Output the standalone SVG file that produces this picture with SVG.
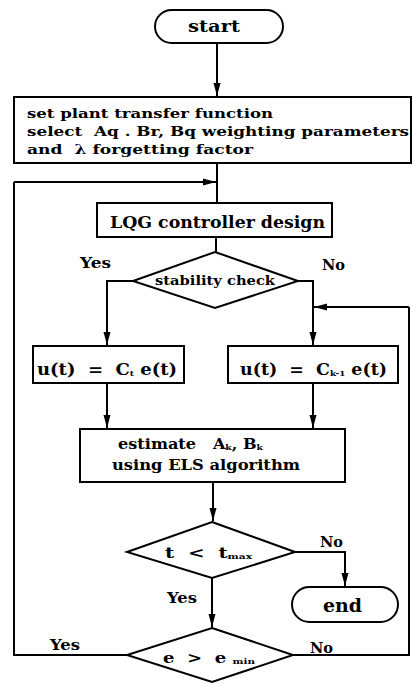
<svg xmlns="http://www.w3.org/2000/svg" width="413" height="684" viewBox="0 0 413 684">
<style>
.s{fill:none;stroke:#000;stroke-width:2}
.n{fill:#fff;stroke:#000;stroke-width:2}
text{font-family:"DejaVu Serif","Liberation Serif",serif;font-weight:bold;fill:#000;white-space:pre}
</style>
<defs>
<marker id="a" markerUnits="userSpaceOnUse" markerWidth="14" markerHeight="8" refX="13" refY="4" orient="auto">
<path d="M0,0.5 L13,4 L0,7.5 z" fill="#000"/>
</marker>
</defs>
<rect width="413" height="684" fill="#fff"/>
<g id="connectors">
<path class="s" d="M217,43 V96" marker-end="url(#a)"/>
<path class="s" d="M217,163 V203"/>
<path class="s" d="M14,182 H216" marker-end="url(#a)"/>
<path class="s" d="M216,237 V252"/>
<path class="s" d="M133,281 H107 V345" marker-end="url(#a)"/>
<path class="s" d="M298,281 H313 V345" marker-end="url(#a)"/>
<path class="s" d="M409,307 H314" marker-end="url(#a)"/>
<path class="s" d="M107,383 V428" marker-end="url(#a)"/>
<path class="s" d="M313,383 V428" marker-end="url(#a)"/>
<path class="s" d="M213,482 V521" marker-end="url(#a)"/>
<path class="s" d="M295,552 H345 V586" marker-end="url(#a)"/>
<path class="s" d="M212,578 V627" marker-end="url(#a)"/>
<path class="s" d="M127,655 H14 V182"/>
<path class="s" d="M293,655 H409 V307"/>
</g>
<g id="start">
<rect class="n" x="155" y="10" width="128" height="33" rx="16.5"/>
<text x="188" y="32" font-size="17" textLength="52" lengthAdjust="spacingAndGlyphs">start</text>
</g>
<g id="setup">
<rect class="n" x="14" y="97" width="397" height="66"/>
<text x="27" y="118" font-size="13" textLength="246" lengthAdjust="spacingAndGlyphs">set plant transfer function</text>
<text x="27" y="136" font-size="13" textLength="382" lengthAdjust="spacingAndGlyphs">select  Aq . Br, Bq weighting parameters</text>
<text x="27" y="154" font-size="13" textLength="226" lengthAdjust="spacingAndGlyphs">and  λ forgetting factor</text>
</g>
<g id="lqg">
<rect class="n" x="97" y="203" width="235" height="34"/>
<text x="110" y="228" font-size="16" textLength="215" lengthAdjust="spacingAndGlyphs">LQG controller design</text>
</g>
<g id="stability">
<path class="n" d="M215,252 L298,281 L215,308 L133,281 z"/>
<text x="155" y="285" font-size="12" textLength="120" lengthAdjust="spacingAndGlyphs">stability check</text>
<text x="80" y="268" font-size="15" textLength="31" lengthAdjust="spacingAndGlyphs">Yes</text>
<text x="322" y="270" font-size="15" textLength="23" lengthAdjust="spacingAndGlyphs">No</text>
</g>
<g id="ct">
<rect class="n" x="33" y="346" width="151" height="37"/>
<text x="37" y="375" font-size="16" textLength="140" lengthAdjust="spacingAndGlyphs">u(t)  =  C<tspan font-size="8" dy="1">t</tspan><tspan dy="-1"> e(t)</tspan></text>
</g>
<g id="ck1">
<rect class="n" x="228" y="346" width="170" height="37"/>
<text x="240" y="375" font-size="16" textLength="147" lengthAdjust="spacingAndGlyphs">u(t)  =  C<tspan font-size="8" dy="1">k-1</tspan><tspan dy="-1"> e(t)</tspan></text>
</g>
<g id="estimate">
<rect class="n" x="80" y="429" width="265" height="53"/>
<text x="118" y="449" font-size="14" textLength="145" lengthAdjust="spacingAndGlyphs">estimate   A<tspan font-size="8" dy="1">k</tspan><tspan dy="-1">, B</tspan><tspan font-size="8" dy="1">k</tspan></text>
<text x="112" y="470" font-size="14" textLength="188" lengthAdjust="spacingAndGlyphs">using ELS algorithm</text>
</g>
<g id="tmax">
<path class="n" d="M212,522 L295,552 L212,578 L127,552 z"/>
<text x="165" y="558" font-size="15" textLength="87" lengthAdjust="spacingAndGlyphs">t  &lt;  t<tspan font-size="8" dy="1">max</tspan></text>
<text x="320" y="547" font-size="15" textLength="23" lengthAdjust="spacingAndGlyphs">No</text>
<text x="167" y="603" font-size="15" textLength="30" lengthAdjust="spacingAndGlyphs">Yes</text>
</g>
<g id="end">
<rect class="n" x="292" y="587" width="106" height="35" rx="17.5"/>
<text x="323" y="612" font-size="19" textLength="39" lengthAdjust="spacingAndGlyphs">end</text>
</g>
<g id="emin">
<path class="n" d="M212,628 L293,655 L212,682 L127,655 z"/>
<text x="163" y="663" font-size="14" textLength="92" lengthAdjust="spacingAndGlyphs">e  &gt;  e <tspan font-size="8" dy="1">min</tspan></text>
<text x="50" y="650" font-size="15" textLength="30" lengthAdjust="spacingAndGlyphs">Yes</text>
<text x="310" y="653" font-size="15" textLength="23" lengthAdjust="spacingAndGlyphs">No</text>
</g>
</svg>
